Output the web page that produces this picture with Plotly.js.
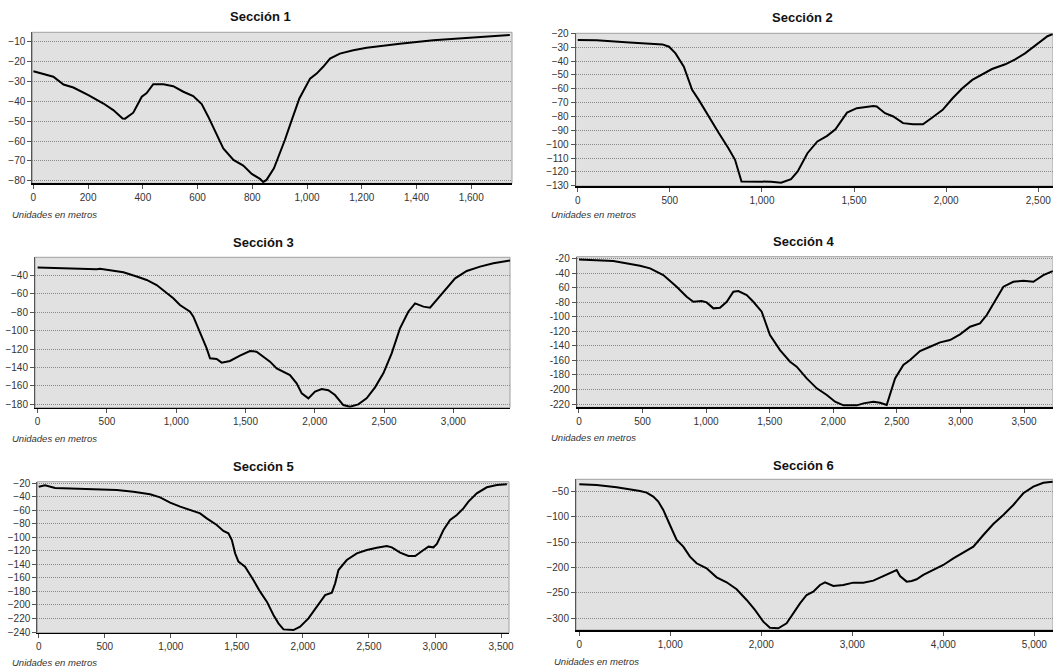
<!DOCTYPE html>
<html>
<head>
<meta charset="utf-8">
<script src="https://cdn.plot.ly/plotly-3.0.1.min.js"></script>
<style>html,body{margin:0;padding:0;background:#fff;}#chart{width:1053px;height:670px;}</style>
</head>
<body>
<div id="chart"></div>
<script>
// ---- Data (distance in m, depth in m) ----
const titles = ["Sección 1","Sección 2","Sección 3","Sección 4","Sección 5","Sección 6"];
const xLabel = "Unidades en metros";

const x1 = [0,73,110,146,201,256,292,326,335,365,396,414,438,475,511,548,584,615,639,670,694,731,767,798,828,840,852,879,919,944,972,1011,1035,1059,1084,1120,1169,1218,1339,1461,1583,1741];
const y1 = [-25,-27.8,-31.7,-33.2,-37,-41.2,-44.5,-48.7,-48.8,-45.8,-37.8,-36,-31.5,-31.5,-32.5,-35.3,-37.5,-41.5,-47.8,-57,-63.7,-69.5,-72.3,-76.5,-79,-80.5,-79.5,-73.7,-59.5,-49.5,-38.7,-28.7,-26.2,-22.8,-18.7,-16.2,-14.5,-13.3,-11.2,-9.5,-8.2,-6.8];

const x2 = [0,102,281,460,496,531,576,621,657,710,764,818,854,889,997,1050,1104,1158,1194,1247,1301,1354,1399,1462,1515,1605,1623,1668,1713,1766,1820,1874,1927,1981,2035,2088,2142,2196,2249,2321,2375,2428,2473,2518,2550,2578];
const y2 = [-24.8,-25,-26.5,-27.9,-29.6,-34.4,-44,-60.8,-68,-80,-91.6,-102.9,-111.3,-126.9,-127.1,-127.1,-127.8,-125.2,-119.7,-106.5,-98,-94,-89.2,-77.2,-74,-72.4,-72.8,-77.6,-80,-84.8,-85.6,-85.6,-80.5,-75.2,-66.8,-59.6,-53.6,-49.3,-45.7,-42.3,-38.7,-34.4,-29.6,-24.8,-22,-20.5];

const x3 = [0,161,306,426,450,522,619,715,787,859,931,979,1027,1100,1124,1172,1220,1244,1292,1328,1388,1460,1532,1580,1629,1677,1725,1773,1821,1869,1906,1954,2002,2050,2098,2146,2206,2254,2314,2374,2435,2495,2555,2615,2675,2724,2784,2832,2880,2952,3013,3097,3193,3289,3385,3409];
const y3 = [-31,-32,-33,-33,-32.4,-34.2,-36.4,-41,-44.7,-50.2,-59.3,-64.7,-72,-79.3,-84.7,-101,-119.3,-130.2,-130.9,-134.9,-133,-127.3,-122.2,-122.9,-128.4,-133.8,-141.1,-144.7,-148.4,-157.5,-168.4,-173.8,-166.5,-163.6,-165,-170.2,-181.1,-182.9,-180.4,-173.8,-161.8,-146.5,-124.7,-97.5,-79.3,-70.2,-73.8,-74.9,-66.5,-53.8,-42.9,-34.9,-30.2,-26.5,-24,-23.6];

const x4 = [0,270,480,559,663,768,847,899,965,1004,1057,1109,1162,1214,1253,1319,1371,1437,1502,1581,1660,1712,1791,1870,1949,2014,2080,2185,2237,2315,2368,2420,2486,2551,2604,2682,2761,2840,2918,2997,3076,3154,3207,3259,3338,3416,3495,3574,3652,3726];
const y4 = [-21,-23.2,-29.6,-33.3,-42.5,-58.5,-72.3,-79.2,-78.3,-80.1,-88.3,-87.4,-79.2,-65.4,-64.5,-70,-79.2,-92.9,-125,-145.7,-161.7,-168.6,-184.7,-198.4,-207.6,-216.8,-221.8,-221.8,-219.1,-216.8,-218.2,-221.4,-184.7,-166.3,-159.4,-147.1,-141.1,-135.1,-131.9,-124.1,-113.6,-109,-97.5,-81.5,-58.5,-51.7,-50.3,-51.7,-42.5,-37];

const x5 = [0,48,124,212,464,591,717,843,919,995,1071,1146,1222,1272,1348,1398,1436,1462,1487,1512,1562,1625,1676,1727,1777,1815,1853,1928,1979,2042,2105,2168,2219,2244,2269,2332,2408,2484,2559,2635,2673,2736,2799,2850,2913,2951,2988,3014,3064,3114,3165,3215,3253,3316,3392,3468,3544];
const y5 = [-25,-23,-27,-27.4,-28.4,-29.9,-32.3,-36.3,-40.7,-48.6,-54.5,-59.5,-64.4,-71.8,-81.7,-90.5,-94,-103.9,-123.6,-135.9,-143.3,-163.1,-180.3,-195.1,-214.9,-227.2,-236.1,-237.1,-232.1,-219.8,-202.5,-185.3,-181.8,-168,-148.3,-133.5,-123.6,-118.7,-115.2,-112.7,-114.7,-122.6,-127.5,-127.5,-118.7,-113.7,-114.7,-109.8,-89.1,-74.3,-66.9,-57,-47.1,-34.8,-25.9,-22.5,-21.5];

const x6 = [0,190,410,557,667,740,813,868,923,996,1070,1143,1216,1289,1399,1509,1619,1729,1839,1930,2022,2095,2187,2278,2352,2425,2498,2571,2645,2700,2791,2901,3011,3121,3231,3341,3450,3487,3524,3597,3652,3707,3780,3890,4000,4110,4220,4330,4440,4549,4659,4769,4879,4989,5099,5201];
const y6 = [-36.2,-37.5,-42.1,-46,-49.3,-52.6,-60.5,-70.3,-86.7,-116.3,-145.8,-158.9,-178.6,-191.7,-201.6,-219.3,-229.1,-242.9,-263.9,-283.6,-306.6,-318.4,-319.7,-309.8,-290.2,-270.5,-254.1,-247.5,-234.4,-229.1,-236.4,-234.4,-229.8,-229.8,-225.9,-216.7,-208.1,-204.9,-216.7,-227.8,-226.5,-223.2,-214.7,-204.9,-195,-181.9,-170.7,-158.9,-136,-114.3,-96.6,-76.9,-53.9,-40.8,-33.1,-31];

// ---- Tick labels ----
const yt1 = [-10,-20,-30,-40,-50,-60,-70,-80];
const yt2 = [-20,-30,-40,-50,-60,-70,-80,-90,-100,-110,-120,-130];
const yt3 = [-40,-60,-80,-100,-120,-140,-160,-180];
const yt4 = [-20,-40,-60,-80,-100,-120,-140,-160,-180,-200,-220];
const yt4text = ["-20","-40","60","-80","-100","-120","-140","-160","-180","-200","-220"];
const yt5 = [-20,-40,-60,-80,-100,-120,-140,-160,-180,-200,-220,-240];
const yt6 = [-50,-100,-150,-200,-250,-300];
const xt1 = [0,200,400,600,800,1000,1200,1400,1600];
const xt2 = [0,500,1000,1500,2000,2500];
const xt3 = [0,500,1000,1500,2000,2500,3000];
const xt4 = [0,500,1000,1500,2000,2500,3000,3500];
const xt5 = [0,500,1000,1500,2000,2500,3000,3500];
const xt6 = [0,1000,2000,3000,4000,5000];

// ---- Layout geometry (pixels) ----
const W = 1053, H = 670;
const panels = [
  {xs:x1, ys:y1, xt:xt1, yt:yt1, ytt:null, px:[32.3,512], py:[32.3,183.3], xr:[-4,1749], yr:[-81.2,-5.5], title:[260,17], lab:[10,214]},
  {xs:x2, ys:y2, xt:xt2, yt:yt2, ytt:null, px:[575.7,1053], py:[33.3,186], xr:[-11,2580], yr:[-130.2,-19.9], title:[802,18], lab:[549,215]},
  {xs:x3, ys:y3, xt:xt3, yt:yt3, ytt:null, px:[35,510], py:[257.3,407.7], xr:[-19,3409], yr:[-184,-20], title:[263,242], lab:[10,438]},
  {xs:x4, ys:y4, xt:xt4, yt:yt4, ytt:yt4text, px:[576.7,1053], py:[256.7,407.3], xr:[-18,3728], yr:[-224.5,-17.2], title:[803,241], lab:[549,437]},
  {xs:x5, ys:y5, xt:xt5, yt:yt5, ytt:null, px:[37.3,509], py:[481.7,632.7], xr:[-10.6,3560], yr:[-241,-17.6], title:[263,466], lab:[10,662]},
  {xs:x6, ys:y6, xt:xt6, yt:yt6, ytt:null, px:[576,1053], py:[479.3,630], xr:[-36,5205], yr:[-323,-26.4], title:[803,465], lab:[552,661]}
];

const font = "Liberation Sans, Arial, sans-serif";
const traces = [];
const layout = {
  width: W, height: H,
  margin: {l:0, r:0, t:0, b:0},
  paper_bgcolor: "#ffffff",
  plot_bgcolor: "#e1e1e1",
  showlegend: false,
  font: {family: font, size: 10, color: "#333333"},
  annotations: [],
  shapes: []
};

panels.forEach((p, i) => {
  const n = i + 1;
  const sx = n === 1 ? "" : String(n);
  traces.push({
    type: "scatter", mode: "lines",
    x: p.xs, y: p.ys,
    xaxis: "x" + sx, yaxis: "y" + sx,
    line: {color: "#000000", width: 2},
    cliponaxis: true,
    hoverinfo: "skip"
  });
  layout["xaxis" + sx] = {
    domain: [p.px[0] / W, p.px[1] / W],
    anchor: "y" + sx,
    range: p.xr,
    tickmode: "array", tickvals: p.xt,
    tickformat: ",d",
    ticklabeloverflow: "allow",
    showgrid: false, zeroline: false,
    showline: true, linecolor: "#000000", linewidth: 1.5,
    ticks: "outside", ticklen: 4, tickcolor: "#555555", tickwidth: 1,
    tickfont: {family: font, size: 10, color: "#333333"},
    fixedrange: true
  };
  const ya = {
    domain: [1 - p.py[1] / H, 1 - p.py[0] / H],
    anchor: "x" + sx,
    range: p.yr,
    tickmode: "array", tickvals: p.yt,
    showgrid: true, gridcolor: "#8a8a8a", gridwidth: 1, griddash: "1px,1px",
    zeroline: false,
    showline: true, linecolor: "#555555", linewidth: 1,
    ticks: "outside", ticklen: 4, tickcolor: "#555555", tickwidth: 1,
    tickfont: {family: font, size: 10, color: "#333333"},
    fixedrange: true
  };
  if (p.ytt) ya.ticktext = p.ytt;
  layout["yaxis" + sx] = ya;

  layout.shapes.push({
    type: "rect", xref: "x" + sx + " domain", yref: "y" + sx + " domain",
    x0: 0, x1: 1, y0: 0, y1: 1,
    line: {color: "#a0a0a0", width: 1}, fillcolor: "rgba(0,0,0,0)", layer: "below"
  });

  layout.annotations.push({
    xref: "paper", yref: "paper",
    x: p.title[0] / W, y: 1 - p.title[1] / H,
    xanchor: "center", yanchor: "middle",
    text: "<b>" + titles[i] + "</b>", showarrow: false,
    font: {family: font, size: 13, color: "#111111"}
  });
  layout.annotations.push({
    xref: "paper", yref: "paper",
    x: p.lab[0] / W, y: 1 - p.lab[1] / H,
    xanchor: "left", yanchor: "middle",
    text: "<i>" + xLabel + "</i>", showarrow: false,
    font: {family: font, size: 9.5, color: "#333333"}
  });
});

Plotly.newPlot("chart", traces, layout, {displayModeBar: false, staticPlot: true});
</script>
</body>
</html>
